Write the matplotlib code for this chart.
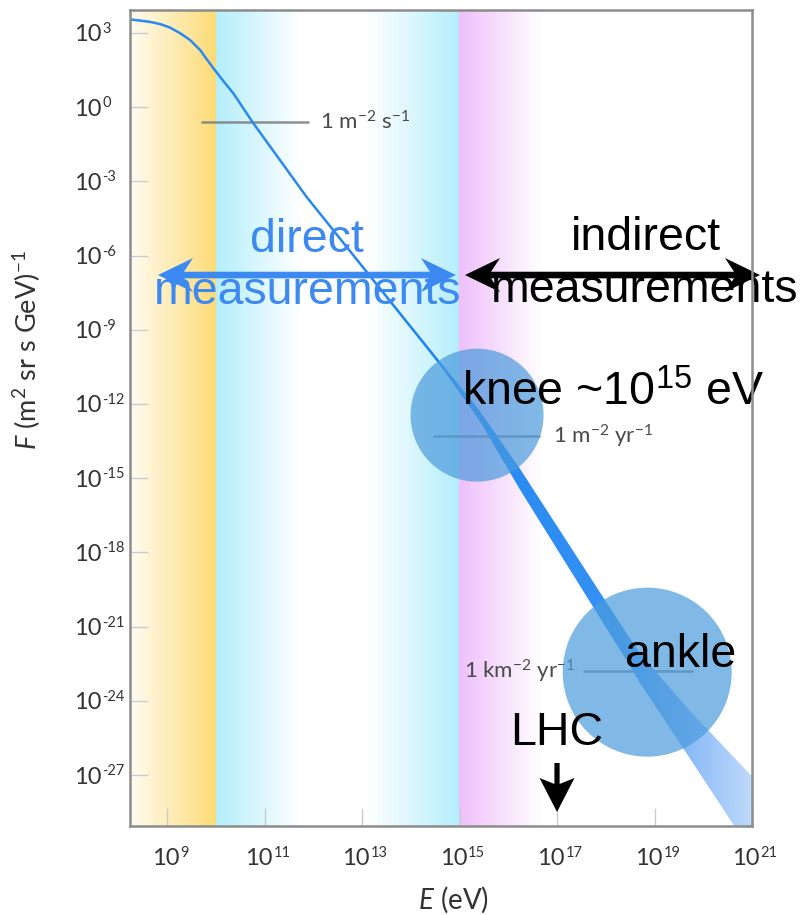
import numpy as np
import matplotlib
matplotlib.use("Agg")
import matplotlib.pyplot as plt
from matplotlib.patches import Polygon
from matplotlib.transforms import IdentityTransform, blended_transform_factory
from matplotlib.colors import to_rgb
from matplotlib.ticker import NullLocator

plt.rcParams["mathtext.fontset"] = "custom"
plt.rcParams["mathtext.rm"] = "Liberation Sans"
plt.rcParams["mathtext.sf"] = "Lato"
plt.rcParams["mathtext.it"] = "Lato:italic"
plt.rcParams["mathtext.bf"] = "Lato:bold"

# ---------------------------------------------------------------- data
# All-particle cosmic-ray spectrum: log10(E / eV) and log10(F / (m^2 sr s GeV)^-1)
log_energy = [8.24, 8.45, 8.65, 8.86, 9.06, 9.27, 9.47, 9.68, 9.81, 9.98, 10.15,
              10.36, 10.77, 11.86, 13.23, 14.60, 15.40, 16.24, 17.61, 18.43,
              18.70, 19.70, 21.00]
log_flux = [3.55, 3.50, 3.45, 3.36, 3.22, 2.99, 2.72, 2.31, 1.95, 1.50, 1.07,
            0.56, -0.65, -3.62, -6.99, -10.36, -12.44, -15.04, -19.29, -21.83,
            -22.67, -25.30, -28.60]
# half-width of the measurement uncertainty band, in decades of flux
band_half_width = [0.03, 0.03, 0.03, 0.03, 0.03, 0.03, 0.03, 0.03, 0.03, 0.03, 0.03,
                   0.03, 0.03, 0.03, 0.04, 0.07, 0.20, 0.42, 0.50, 0.55,
                   0.60, 0.95, 1.55]

# integral-flux reference levels
ref_labels = [r"1 m$^{\mathsf{-2}}$ s$^{\mathsf{-1}}$",
              r"1 m$^{\mathsf{-2}}$ yr$^{\mathsf{-1}}$",
              r"1 km$^{\mathsf{-2}}$ yr$^{\mathsf{-1}}$"]
ref_log_flux = [-0.60, -13.30, -22.80]
ref_log_e_start = [9.70, 14.46, 17.53]
ref_log_e_end = [11.91, 16.65, 19.79]

# spectral features
feature_names = ["knee", "ankle"]
feature_log_e = [15.36, 18.85]
feature_log_flux = [-12.45, -22.84]

lhc_log_e = 17.0

# axis ticks (decade exponents; labels are drawn as "10" plus a raised exponent)
x_tick_exps = [9, 11, 13, 15, 17, 19, 21]
y_tick_exps = [3, 0, -3, -6, -9, -12, -15, -18, -21, -24, -27]
tick_base = "10"

# colour regimes along the energy axis: (from, to, colour at start, colour at end)
regime_from = [8.24, 10.0, 13.1, 15.0]
regime_to = [10.0, 11.75, 15.0, 16.7]
regime_c0 = ["#fffcf2", "#b4eefb", "#ffffff", "#efc0fb"]
regime_c1 = ["#fcdb76", "#ffffff", "#b4eefb", "#ffffff"]

# ---------------------------------------------------------------- layout
W, H = 808, 915
DPI = 100
log_e_min, log_e_max = 8.24, 21.0
log_f_min, log_f_max = -29.06, 3.93
rect = [130 / W, 1 - 826 / H, 622 / W, 816 / H]

fig = plt.figure(figsize=(W / DPI, H / DPI), dpi=DPI)
fig.patch.set_facecolor("white")

# background colour regimes (linear in log E)
bg = fig.add_axes(rect, zorder=0)
cols = np.linspace(log_e_min, log_e_max, 2400)
rgb = np.ones((1, cols.size, 3))
for a, b, c0, c1 in zip(regime_from, regime_to, regime_c0, regime_c1):
    m = (cols >= a) & (cols < b)
    t = ((cols[m] - a) / (b - a))[:, None]
    rgb[0, m] = (1 - t) * np.array(to_rgb(c0)) + t * np.array(to_rgb(c1))
bg.imshow(rgb, extent=(log_e_min, log_e_max, 0, 1), aspect="auto",
          interpolation="nearest")
bg.set_xlim(log_e_min, log_e_max)
bg.set_ylim(0, 1)
bg.axis("off")

ax = fig.add_axes(rect, zorder=1)
ax.patch.set_visible(False)

E = 10.0 ** np.array(log_energy)
F = 10.0 ** np.array(log_flux)
hw = np.array(band_half_width)
upper = 10.0 ** (np.array(log_flux) + hw)
lower = 10.0 ** (np.array(log_flux) - hw)

# spectrum line, then the uncertainty band (gradient along energy) on top
ax.plot(E, F, color="#2f8cf0", lw=1.8, zorder=2.9, solid_capstyle="butt",
        solid_joinstyle="round")

verts = list(zip(E, upper)) + list(zip(E[::-1], lower[::-1]))
band_patch = Polygon(verts, closed=True, facecolor="none", edgecolor="none")
ax.add_patch(band_patch)
grad_pos = [log_e_min, 14.0, 18.0, 19.5, log_e_max]
grad_col = ["#2a8cf2", "#1c84f2", "#3591f3", "#82b6f6", "#bfdafa"]
gx = np.linspace(log_e_min, log_e_max, 800)
gcols = np.array([to_rgb(c) for c in grad_col])
grad = np.stack([np.interp(gx, grad_pos, gcols[:, k]) for k in range(3)], axis=-1)[None]
im = ax.imshow(grad, extent=(0, 1, 0, 1), transform=ax.transAxes, aspect="auto",
               interpolation="bilinear", zorder=3)
im.set_clip_path(band_patch)

ax.set_xscale("log")
ax.set_yscale("log")
ax.set_xlim(10 ** log_e_min, 10 ** log_e_max)
ax.set_ylim(10 ** log_f_min, 10 ** log_f_max)

# reference flux levels
ref_label_pos = [(12.14, "left"), (16.92, "left"), (17.37, "right")]
for lab, lf, a, b, (lx, ha) in zip(ref_labels, ref_log_flux, ref_log_e_start,
                                   ref_log_e_end, ref_label_pos):
    ax.plot([10 ** a, 10 ** b], [10 ** lf, 10 ** lf], color="#7c7c7c", lw=1.8,
            alpha=0.85, zorder=2, solid_capstyle="butt")
    ax.text(10 ** lx, 10 ** lf, lab, ha=ha, va="center", fontsize=16,
            family="Lato", color="#4a4a4a", zorder=2)

# highlighted spectral features
for d_px, le, lf in zip([133, 169], feature_log_e, feature_log_flux):
    ax.scatter([10 ** le], [10 ** lf], s=(d_px * 0.72) ** 2, color="#4b9bdc",
               alpha=0.7, edgecolors="none", zorder=4)

# ticks and frame
ax.set_xticks([10.0 ** e for e in x_tick_exps])
ax.set_yticks([10.0 ** e for e in y_tick_exps])
ax.set_xticklabels([])
ax.set_yticklabels([])
ax.xaxis.set_minor_locator(NullLocator())
ax.yaxis.set_minor_locator(NullLocator())
ax.tick_params(axis="both", which="major", direction="in", length=13, width=1.0,
               color="#cccccc")
for s in ax.spines.values():
    s.set_color("#8c8c8c")
    s.set_linewidth(1.8)
    s.set_zorder(6)

# decade tick labels: "10" with a small raised exponent
renderer = fig.canvas.get_renderer()
px = IdentityTransform()
fs_base, fs_exp = 17, 10.5
digit_h = 0.7165 * fs_base * DPI / 72
lab_style = dict(family="Lato", color="#333333", transform=px, va="baseline")


def decade_label(exp):
    t10 = fig.text(0, 0, tick_base, fontsize=fs_base, ha="left", **lab_style)
    tex = fig.text(0, 0, str(exp), fontsize=fs_exp, ha="left", **lab_style)
    w10 = t10.get_window_extent(renderer).width
    wex = tex.get_window_extent(renderer).width
    return t10, tex, w10, wex


def place(t10, tex, w10, x_left, baseline):
    t10.set_position((x_left, baseline))
    tex.set_position((x_left + w10 + 1, baseline + digit_h - 0.72 * fs_exp * DPI / 72 + 2))


axis_y_ticks = blended_transform_factory(ax.transAxes, ax.transData)
for e in y_tick_exps:
    x0, y0 = axis_y_ticks.transform((0, 10.0 ** e))
    t10, tex, w10, wex = decade_label(e)
    place(t10, tex, w10, x0 - 56, y0 - digit_h / 2)

axis_x_ticks = blended_transform_factory(ax.transData, ax.transAxes)
for e in x_tick_exps:
    x0, y0 = axis_x_ticks.transform((10.0 ** e, 0))
    t10, tex, w10, wex = decade_label(e)
    place(t10, tex, w10, x0 + 3 - (w10 + 1 + wex) / 2, y0 - 39)

fig.text(454 / W, 1 - 900 / H, r"$\mathit{E}$ (eV)", ha="center", va="center",
         fontsize=20, family="Lato", color="#333333")
fig.text(27 / W, 1 - 350 / H, r"$\mathit{F}$ (m$^{\mathsf{2}}$ sr s GeV)$^{\mathsf{-1}}$",
         ha="center", va="center", rotation=90, fontsize=19.5, family="Lato",
         color="#333333")

# annotations
blue = "#3d89f2"
big = dict(fontsize=33.5, family="Liberation Sans", zorder=5)
ax.text(0.2846, 0.7034, "direct", color=blue, ha="center", va="baseline",
        transform=ax.transAxes, **big)
ax.text(0.2854, 0.6397, "measurements", color=blue, ha="center", va="baseline",
        transform=ax.transAxes, **big)
ax.text(0.8296, 0.7059, "indirect", color="black", ha="center", va="baseline",
        transform=ax.transAxes, **big)
ax.text(0.828, 0.6422, "measurements", color="black", ha="center", va="baseline",
        transform=ax.transAxes, **big)
ax.text(0.5338, 0.5159, r"knee ~10$^{\mathrm{15}}$ eV", color="black", ha="left",
        va="baseline", transform=ax.transAxes, **big)
ax.text(0.7958, 0.1949, "ankle", color="black", ha="left", va="baseline",
        transform=ax.transAxes, **big)
ax.text(10 ** lhc_log_e, 0.0993, "LHC", color="black", ha="center", va="baseline",
        transform=axis_x_ticks, **big)


def stealth_arrow(p0, p1, color, L, Wd, t, k, start_head=True, end_head=True):
    p0 = np.asarray(p0, float)
    p1 = np.asarray(p1, float)
    d = (p1 - p0) / np.hypot(*(p1 - p0))
    n = np.array([-d[1], d[0]])

    def side(s):
        pts = []
        if start_head:
            pts += [p0 + d * L + s * n * Wd, p0 + d * (L - k) + s * n * t]
        else:
            pts += [p0 + s * n * t]
        if end_head:
            pts += [p1 - d * (L - k) + s * n * t, p1 - d * L + s * n * Wd]
        else:
            pts += [p1 + s * n * t]
        return pts

    pts = ([p0] if start_head else []) + side(1) + ([p1] if end_head else []) + side(-1)[::-1]
    poly = Polygon(pts, closed=True, facecolor=color, edgecolor="none",
                   transform=px, clip_on=False, zorder=5)
    ax.add_patch(poly)


to_px = ax.transAxes.transform
stealth_arrow(to_px((0.045, 0.6752)), to_px((0.524, 0.6752)), blue, 35, 17, 3.3, 9)
stealth_arrow(to_px((0.5386, 0.6752)), to_px((1.0129, 0.6752)), "black", 35, 17, 3.3, 9)
stealth_arrow(axis_x_ticks.transform((10 ** lhc_log_e, 0.0772)),
              axis_x_ticks.transform((10 ** lhc_log_e, 0.0172)), "black", 34, 17.5, 2.6, 6,
              start_head=False)

fig.savefig("out.png", dpi=DPI, facecolor="white")
